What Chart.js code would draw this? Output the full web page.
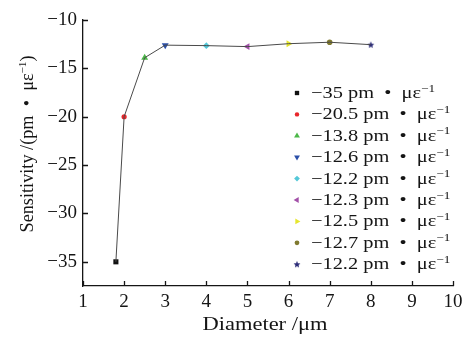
<!DOCTYPE html>
<html>
<head>
<meta charset="utf-8">
<script src="https://cdn.jsdelivr.net/npm/chart.js@4.4.0/dist/chart.umd.min.js"></script>
<style>
  html, body { margin: 0; padding: 0; background: #fff; }
  #wrap { width: 471px; height: 339px; }
</style>
</head>
<body>
<div id="wrap"><canvas id="chart"></canvas></div>
<script>
const diameters = [1.8, 2, 2.5, 3, 4, 5, 6, 7, 8];
const sensitivity = [-35, -20, -13.9, -12.6, -12.65, -12.75, -12.45, -12.3, -12.55];
const legendValues = ['−35', '−20.5', '−13.8', '−12.6', '−12.2', '−12.3', '−12.5', '−12.7', '−12.2'];
const xTicks = [1, 2, 3, 4, 5, 6, 7, 8, 9, 10];
const yTicks = [-35, -30, -25, -20, -15, -10];
const xTitle = 'Diameter /μm';

const markerColors = ['#111111', '#e8262b', '#4cb848', '#2b4fa8', '#54c8d8', '#a250a8', '#e6e62e', '#807a30', '#2c2c78'];
const FONT = '"Liberation Serif", "DejaVu Serif", serif';
const INK = '#151515';

function starImage(color, r) {
  const cv = document.createElement('canvas');
  const s = Math.ceil(r * 2 + 2);
  cv.width = s; cv.height = s;
  const g = cv.getContext('2d');
  g.fillStyle = color;
  g.beginPath();
  for (let i = 0; i < 10; i++) {
    const rr = i % 2 === 0 ? r : r * 0.45;
    const a = -Math.PI / 2 + i * Math.PI / 5;
    const px = s / 2 + rr * Math.cos(a), py = s / 2 + rr * Math.sin(a) + 0.4;
    if (i === 0) g.moveTo(px, py); else g.lineTo(px, py);
  }
  g.closePath();
  g.fill();
  return cv;
}

const markerStyles = [
  { style: 'rect', rot: 0, r: 3.6 },
  { style: 'circle', rot: 0, r: 2.6 },
  { style: 'triangle', rot: 0, r: 4 },
  { style: 'triangle', rot: 180, r: 4 },
  { style: 'rectRot', rot: 0, r: 3.4 },
  { style: 'triangle', rot: 270, r: 4 },
  { style: 'triangle', rot: 90, r: 4 },
  { style: 'circle', rot: 0, r: 2.8 },
  { style: starImage(markerColors[8], 3.6), rot: 0, r: 3.6 }
];

const pointDatasets = diameters.map((d, i) => ({
  data: [{ x: d, y: sensitivity[i] }],
  showLine: false,
  pointStyle: markerStyles[i].style,
  rotation: markerStyles[i].rot,
  pointRadius: markerStyles[i].r,
  backgroundColor: markerColors[i],
  borderColor: markerColors[i],
  borderWidth: 0
}));

const lineDataset = {
  data: diameters.map((d, i) => ({ x: d, y: sensitivity[i] })),
  showLine: true,
  borderColor: '#4a4a4a',
  borderWidth: 1,
  pointRadius: 0
};

// text made of pieces, some raised as superscripts
function richWidth(ctx, parts, size) {
  let w = 0;
  parts.forEach(p => {
    ctx.font = (p.sup ? Math.round(size * 0.62) : size) + 'px ' + FONT;
    w += ctx.measureText(p.t).width;
  });
  return w;
}
function drawRich(ctx, parts, size, x0) {
  let x = x0;
  parts.forEach(p => {
    ctx.font = (p.sup ? Math.round(size * 0.62) : size) + 'px ' + FONT;
    ctx.fillText(p.t, x, p.sup ? -size * 0.38 : 0);
    x += ctx.measureText(p.t).width;
  });
}
const unitParts = v => [{ t: v + ' pm\u2002•\u2002με' }, { t: '−1', sup: true }];

const innerTicks = {
  id: 'innerTicks',
  afterDraw(chart) {
    const ctx = chart.ctx;
    const xs = chart.scales.x, ys = chart.scales.y;
    const a = chart.chartArea;
    ctx.save();
    ctx.strokeStyle = INK;
    ctx.lineWidth = 1.3;
    ctx.beginPath();
    xTicks.forEach(v => {
      const px = Math.round(xs.getPixelForValue(v)) + 0.5;
      ctx.moveTo(px, a.bottom);
      ctx.lineTo(px, a.bottom - 5);
    });
    yTicks.forEach(v => {
      const py = Math.round(ys.getPixelForValue(v)) + 0.5;
      ctx.moveTo(a.left, py);
      ctx.lineTo(a.left + 5, py);
    });
    ctx.stroke();
    ctx.restore();
  }
};

const axisTitles = {
  id: 'axisTitles',
  afterDraw(chart) {
    const ctx = chart.ctx;
    const a = chart.chartArea;
    ctx.save();
    ctx.fillStyle = INK;
    ctx.textBaseline = 'alphabetic';
    // x title
    let parts = [{ t: xTitle }];
    let w = richWidth(ctx, parts, 18);
    ctx.save();
    ctx.translate((a.left + a.right) / 2 - 3, 330);
    ctx.scale(125 / w, 1);
    drawRich(ctx, parts, 18, -w / 2);
    ctx.restore();
    // y title
    parts = [{ t: 'Sensitivity /(pm\u2002•\u2002με' }, { t: '−1', sup: true }, { t: ')' }];
    w = richWidth(ctx, parts, 18);
    ctx.save();
    ctx.translate(33, 144);
    ctx.rotate(-Math.PI / 2);
    ctx.scale(177 / w, 1);
    drawRich(ctx, parts, 18, -w / 2);
    ctx.restore();
    ctx.restore();
  }
};

const sideLegend = {
  id: 'sideLegend',
  afterDraw(chart) {
    const ctx = chart.ctx;
    const size = 17;
    ctx.save();
    ctx.textBaseline = 'alphabetic';
    const sx = 124 / richWidth(ctx, unitParts(legendValues[0]), size);
    legendValues.forEach((v, i) => {
      const base = 98 + i * 21.4;
      ctx.fillStyle = markerColors[i];
      ctx.strokeStyle = markerColors[i];
      Chart.helpers.drawPoint(ctx, {
        pointStyle: markerStyles[i].style,
        rotation: markerStyles[i].rot,
        radius: markerStyles[i].r * 0.85,
        borderWidth: 0
      }, 297, base - 5);
      ctx.fillStyle = INK;
      ctx.save();
      ctx.translate(311, base);
      ctx.scale(sx, 1);
      drawRich(ctx, unitParts(v), size, 0);
      ctx.restore();
    });
    ctx.restore();
  }
};

new Chart(document.getElementById('chart'), {
  type: 'scatter',
  data: { datasets: [lineDataset, ...pointDatasets] },
  plugins: [innerTicks, axisTitles, sideLegend],
  options: {
    responsive: true,
    maintainAspectRatio: false,
    animation: false,
    layout: { padding: { top: 20, right: 18, left: 0, bottom: 0 } },
    plugins: { legend: { display: false }, tooltip: { enabled: false } },
    scales: {
      x: {
        type: 'linear',
        min: 1,
        max: 10,
        afterBuildTicks: s => { s.ticks = xTicks.map(v => ({ value: v })); },
        afterFit: s => { s.height = 53; },
        grid: { display: true, drawOnChartArea: false, drawTicks: false },
        border: { display: true, color: INK, width: 1.3 },
        ticks: { color: INK, padding: 5, font: { family: FONT, size: 19 }, maxRotation: 0 }
      },
      y: {
        type: 'linear',
        min: -37.5,
        max: -10,
        afterBuildTicks: s => { s.ticks = yTicks.map(v => ({ value: v })); },
        afterFit: s => { s.width = 83; },
        grid: { display: true, drawOnChartArea: false, drawTicks: false },
        border: { display: true, color: INK, width: 1.3 },
        ticks: {
          color: INK, padding: 6, font: { family: FONT, size: 19 },
          callback: v => String(v).replace('-', '−')
        }
      }
    }
  }
});
</script>
</body>
</html>
